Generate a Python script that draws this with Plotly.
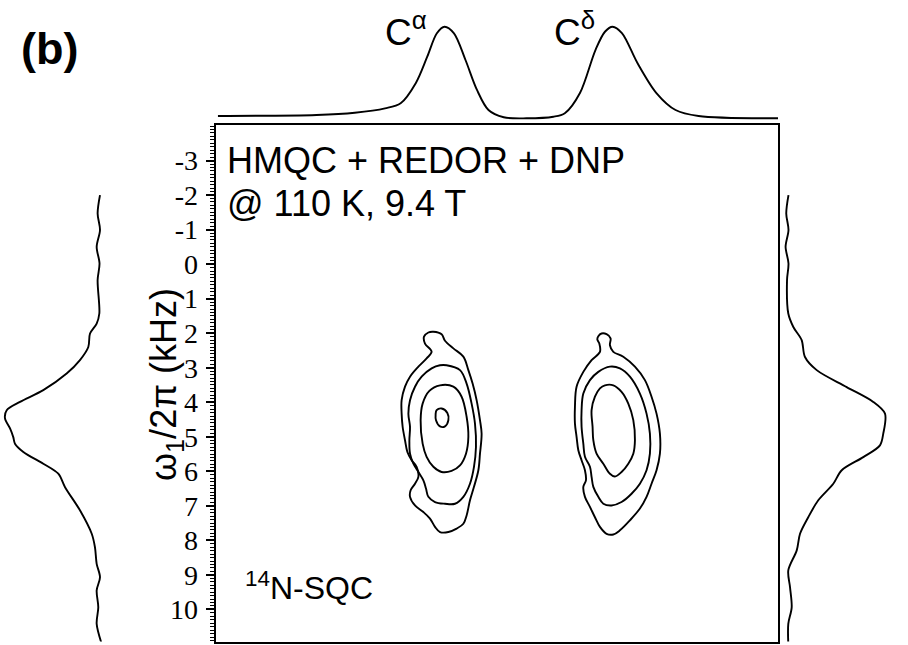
import plotly.graph_objects as go

W, H = 908, 645

# ---------------- data ----------------
# 13C dimension (ppm, reversed axis); 14N dimension omega1/2pi (kHz)
y_tick_vals = [-3, -2, -1, 0, 1, 2, 3, 4, 5, 6, 7, 8, 9, 10]
y_tick_text = [str(v) for v in y_tick_vals]

# top 13C projection
top_ppm = [79.82, 71.93, 68.87, 66.45, 65.20, 63.98, 63.07, 62.30, 61.69, 60.93,
           60.01, 59.09, 58.17, 56.95, 55.12, 52.98, 52.06, 50.85, 49.61, 48.85,
           48.24, 47.49, 46.25, 44.73, 43.20, 41.36, 35.00]
top_int = [0.043, 0.054, 0.078, 0.125, 0.179, 0.397, 0.678, 0.929, 1.000, 0.929,
           0.643, 0.322, 0.107, 0.029, 0.018, 0.035, 0.072, 0.289, 0.750, 0.946,
           1.000, 0.932, 0.611, 0.289, 0.107, 0.043, 0.018]

# left 14N projection (Calpha column)
left_khz = [-2.00, -1.47, -0.99, -0.50, -0.02, 0.46, 1.43, 1.72, 2.01, 2.40, 2.78,
            3.17, 3.65, 3.99, 4.23, 4.47, 4.76, 5.01, 5.20, 5.44, 5.78, 6.07, 6.46,
            7.13, 7.81, 8.20, 8.68, 9.07, 9.45, 9.94, 10.42, 11.00]
left_int = [0.000, 0.025, 0.000, 0.035, 0.005, 0.025, 0.007, 0.035, 0.105, 0.123,
            0.211, 0.351, 0.597, 0.842, 0.982, 1.000, 0.947, 0.913, 0.895, 0.807,
            0.597, 0.439, 0.368, 0.211, 0.087, 0.053, 0.035, 0.000, 0.035, 0.018,
            0.035, -0.018]

# right 14N projection (Cdelta column)
right_khz = [-2.00, -1.47, -0.99, -0.50, -0.02, 0.46, 1.43, 1.82, 2.20, 2.69, 3.07,
             3.56, 3.99, 4.33, 4.91, 5.25, 5.59, 5.97, 6.36, 6.84, 7.33, 7.81, 8.29,
             8.87, 9.36, 9.94, 10.42, 11.00]
right_int = [0.005, -0.018, 0.005, -0.025, 0.005, -0.010, 0.003, 0.055, 0.141, 0.175,
             0.296, 0.605, 0.879, 1.000, 0.982, 0.948, 0.776, 0.554, 0.467, 0.312,
             0.209, 0.124, 0.090, 0.003, 0.021, 0.038, 0.003, 0.003]

# contour lines, (ppm, kHz) pairs
calpha_c1 = [(62.58, 1.96), (61.92, 2.03), (61.65, 2.22), (60.98, 2.44), (60.18, 2.68),
             (59.78, 3.07), (59.44, 3.46), (59.12, 3.94), (58.85, 4.52), (58.72, 4.91),
             (58.85, 5.49), (58.98, 5.97), (59.33, 6.45), (59.65, 6.84), (59.92, 7.28),
             (60.18, 7.52), (60.72, 7.66), (61.38, 7.76), (62.05, 7.76), (62.45, 7.61),
             (62.85, 7.37), (63.38, 7.18), (64.05, 6.99), (64.45, 6.74), (64.40, 6.55),
             (64.05, 6.36), (63.78, 6.16), (63.92, 5.87), (64.32, 5.68), (64.66, 5.44),
             (64.85, 5.10), (65.04, 4.71), (65.12, 4.33), (65.12, 3.94), (64.85, 3.55),
             (64.45, 3.26), (63.78, 2.97), (63.12, 2.73), (62.72, 2.54), (63.25, 2.30),
             (63.33, 2.10), (62.98, 1.98)]
calpha_c2 = [(61.52, 2.93), (60.45, 3.07), (59.92, 3.46), (59.52, 4.04), (59.25, 4.62),
             (59.17, 5.29), (59.33, 5.87), (59.65, 6.36), (60.18, 6.74), (60.85, 6.94),
             (61.65, 6.94), (62.45, 6.89), (62.98, 6.74), (63.17, 6.50), (63.38, 6.26),
             (63.78, 6.02), (64.18, 5.78), (64.45, 5.49), (64.50, 5.10), (64.45, 4.71),
             (64.58, 4.33), (64.45, 3.94), (64.05, 3.55), (63.52, 3.26), (62.72, 3.02),
             (62.05, 2.93)]
calpha_c3 = [(62.05, 3.51), (60.98, 3.55), (60.32, 3.84), (59.92, 4.42), (59.78, 5.00),
             (59.97, 5.49), (60.45, 5.83), (61.12, 5.99), (61.92, 6.02), (62.58, 5.87),
             (63.12, 5.58), (63.44, 5.20), (63.60, 4.52), (63.44, 4.04), (62.90, 3.67)]
calpha_c4 = [(62.32, 4.23), (61.92, 4.18), (61.46, 4.31), (61.38, 4.52), (61.65, 4.70),
             (62.05, 4.70), (62.37, 4.52), (62.40, 4.35)]

cdelta_c1 = [(49.38, 2.09), (49.12, 2.01), (48.72, 2.03), (48.40, 2.15), (48.45, 2.35),
             (48.18, 2.54), (47.38, 2.68), (46.45, 2.97), (45.65, 3.36), (45.12, 3.84),
             (44.72, 4.33), (44.45, 4.91), (44.45, 5.49), (44.72, 5.97), (45.12, 6.36),
             (45.52, 6.74), (46.05, 7.08), (46.85, 7.42), (47.65, 7.71), (48.18, 7.83),
             (48.72, 7.81), (49.25, 7.61), (49.65, 7.33), (50.05, 7.03), (50.45, 6.74),
             (50.58, 6.45), (50.37, 6.26), (50.45, 5.97), (50.72, 5.68), (50.98, 5.39),
             (51.12, 5.00), (51.25, 4.62), (51.25, 4.13), (51.12, 3.55), (50.58, 3.12),
             (49.92, 2.78), (49.25, 2.54), (49.30, 2.30), (49.46, 2.18)]
cdelta_c2 = [(48.45, 2.97), (47.65, 3.02), (46.85, 3.26), (46.05, 3.75), (45.52, 4.33),
             (45.25, 4.91), (45.25, 5.49), (45.52, 5.97), (46.05, 6.36), (46.72, 6.65),
             (47.52, 6.89), (48.32, 6.99), (48.98, 6.94), (49.38, 6.74), (49.78, 6.45),
             (49.92, 6.16), (50.05, 5.87), (50.45, 5.58), (50.58, 5.20), (50.72, 4.71),
             (50.72, 4.23), (50.58, 3.75), (50.05, 3.36), (49.38, 3.12)]
cdelta_c3 = [(48.85, 3.51), (48.18, 3.51), (47.52, 3.70), (46.98, 4.04), (46.58, 4.52),
             (46.45, 5.10), (46.58, 5.49), (46.98, 5.78), (47.52, 6.02), (48.05, 6.15),
             (48.45, 6.07), (48.98, 5.78), (49.52, 5.49), (49.78, 5.10), (49.84, 4.71),
             (49.92, 4.23), (49.65, 3.84), (49.25, 3.60)]

contours = [calpha_c1, calpha_c2, calpha_c3, calpha_c4, cdelta_c1, cdelta_c2, cdelta_c3]

# ---------------- layout helpers ----------------
def px(x):
    return x / W

def py(y):
    return 1 - y / H

LINE = dict(color="black", width=1.9)
SANS = "Liberation Sans, Arial, sans-serif"
SERIF = "Liberation Serif, Times New Roman, serif"

fig = go.Figure()

# contours (main subplot x / y)
for c in contours:
    xs = [p[0] for p in c] + [c[0][0]]
    ys = [p[1] for p in c] + [c[0][1]]
    fig.add_trace(go.Scatter(x=xs, y=ys, mode="lines", line=dict(shape="spline", smoothing=1.0, **LINE),
                             hoverinfo="skip", showlegend=False))

# top projection (shares 13C axis)
fig.add_trace(go.Scatter(x=top_ppm, y=top_int, xaxis="x", yaxis="y2", mode="lines",
                         line=dict(shape="spline", smoothing=0.9, **LINE), showlegend=False))
# left projection
fig.add_trace(go.Scatter(x=left_int, y=left_khz, xaxis="x2", yaxis="y", mode="lines",
                         line=dict(shape="spline", smoothing=0.9, **LINE), showlegend=False))
# right projection
fig.add_trace(go.Scatter(x=right_int, y=right_khz, xaxis="x3", yaxis="y", mode="lines",
                         line=dict(shape="spline", smoothing=0.9, **LINE), showlegend=False))

fig.update_layout(
    width=W, height=H, autosize=False,
    margin=dict(l=0, r=0, t=0, b=0),
    paper_bgcolor="white", plot_bgcolor="rgba(0,0,0,0)",
    showlegend=False,
    xaxis=dict(domain=[px(215.7), px(778)], range=[80, 35], showgrid=False, zeroline=False,
               showline=True, linecolor="black", linewidth=2, mirror=True,
               ticks="", showticklabels=False, anchor="y"),
    yaxis=dict(domain=[py(641.5), py(125)], range=[10.93, -4.03], showgrid=False, zeroline=False,
               showline=True, linecolor="black", linewidth=2, mirror=True,
               tickmode="array", tickvals=y_tick_vals, ticktext=y_tick_text,
               ticks="outside", ticklen=8, tickwidth=1.5, tickcolor="black",
               ticklabelstandoff=2,
               minor=dict(ticks="outside", dtick=0.1, tick0=0, ticklen=4, tickwidth=1, tickcolor="black"),
               tickfont=dict(family=SERIF, size=28, color="black"), anchor="x"),
    yaxis2=dict(domain=[py(129.33), py(17.37)], range=[-0.1, 1.1], visible=False, anchor="x"),
    xaxis2=dict(domain=[px(0.25), px(109.5)], range=[1.05, -0.1], visible=False, anchor="y"),
    xaxis3=dict(domain=[px(778.3), px(894.7)], range=[-0.1, 1.1], visible=False, anchor="y"),
)

ann = []
ann.append(dict(text="<b>(b)</b>", x=px(19), y=py(49), xanchor="left", yanchor="middle",
                font=dict(family=SANS, size=45, color="black")))
ann.append(dict(text="C<sup>α</sup>", x=px(383), y=py(30), xanchor="left", yanchor="middle",
                font=dict(family=SANS, size=37, color="black")))
ann.append(dict(text="C<sup>δ</sup>", x=px(552), y=py(30), xanchor="left", yanchor="middle",
                font=dict(family=SANS, size=37, color="black")))
ann.append(dict(text="HMQC + REDOR + DNP", x=px(225), y=py(160), xanchor="left", yanchor="middle",
                font=dict(family=SANS, size=36, color="black")))
ann.append(dict(text="@ 110 K, 9.4 T", x=px(225), y=py(203), xanchor="left", yanchor="middle",
                font=dict(family=SANS, size=36, color="black")))
ann.append(dict(text="<sup>14</sup>N-SQC", x=px(243), y=py(586), xanchor="left", yanchor="middle",
                font=dict(family=SANS, size=32, color="black")))
ann.append(dict(text="ω<sub>1</sub>/2π (kHz)", x=px(166), y=py(385), xanchor="center", yanchor="middle",
                textangle=-90, font=dict(family=SANS, size=36, color="black")))
for a in ann:
    a.update(xref="paper", yref="paper", showarrow=False)
fig.update_layout(annotations=ann)

fig.write_html("out.html", config={"displayModeBar": False},
               post_script="document.body.style.margin='0px';")
